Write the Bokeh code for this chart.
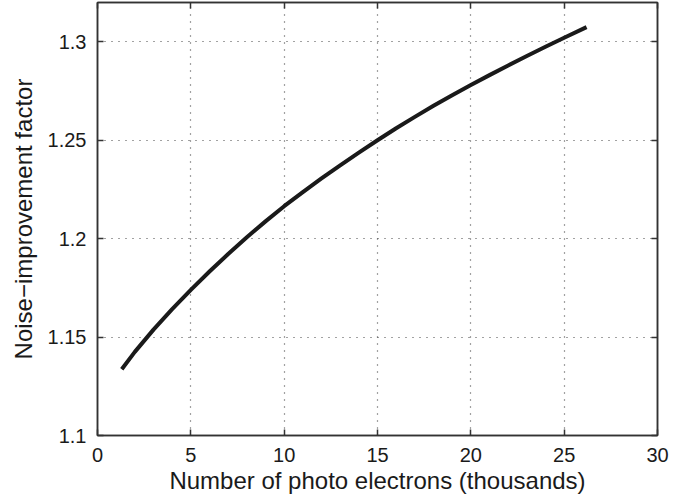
from bokeh.plotting import figure
from bokeh.models import Range1d, FixedTicker, LinearAxis
from bokeh.embed import file_html
from bokeh.resources import INLINE

# Data
electrons_thousands = [1.3, 2, 3, 4, 5, 6, 7, 8, 9, 10, 11, 12, 13, 14, 15,
                       16, 17, 18, 19, 20, 21, 22, 23, 24, 25, 26.2]
noise_improvement = [1.1337, 1.1425, 1.1538, 1.1642, 1.1740, 1.1833, 1.1922, 1.2007,
                     1.2088, 1.2165, 1.2237, 1.2306, 1.2372, 1.2437, 1.2500, 1.2561,
                     1.2619, 1.2675, 1.2729, 1.2781, 1.2831, 1.2880, 1.2928, 1.2975,
                     1.3021, 1.3075]
x_ticks = [0, 5, 10, 15, 20, 25, 30]
y_ticks = [1.1, 1.15, 1.2, 1.25, 1.3]
y_tick_labels = ["1.1", "1.15", "1.2", "1.25", "1.3"]

FONT = "Liberation Sans"

p = figure(width=693, height=497, output_backend="svg", toolbar_location=None,
           x_range=Range1d(0, 30), y_range=Range1d(1.1, 1.32),
           min_border_left=97, min_border_right=36, min_border_top=2, min_border_bottom=62)
p.background_fill_color = "white"
p.border_fill_color = "white"
p.outline_line_color = "#333333"
p.outline_line_width = 1.5

p.line(electrons_thousands, noise_improvement, line_width=4, line_color="#1a1a1a",
       line_join="round", line_cap="butt")

for ax in (p.xaxis[0], p.yaxis[0]):
    ax.major_tick_in = 6
    ax.major_tick_out = 0
    ax.minor_tick_in = 0
    ax.minor_tick_out = 0
    ax.axis_line_color = "#333333"
    ax.axis_line_width = 1.5
    ax.major_tick_line_color = "#333333"
    ax.major_tick_line_width = 1.5
    ax.major_label_text_font = FONT
    ax.major_label_text_font_size = "20px"
    ax.major_label_text_color = "#1a1a1a"
    ax.axis_label_text_font = FONT
    ax.axis_label_text_font_size = "24px"
    ax.axis_label_text_font_style = "normal"
    ax.axis_label_text_color = "#1a1a1a"

p.xaxis[0].ticker = FixedTicker(ticks=x_ticks)
p.yaxis[0].ticker = FixedTicker(ticks=y_ticks)
p.yaxis[0].major_label_overrides = {t: s for t, s in zip(y_ticks, y_tick_labels)}
p.xaxis[0].axis_label = "Number of photo electrons (thousands)"
p.yaxis[0].axis_label = "Noise\u2212improvement factor"
p.xaxis[0].major_label_standoff = 12
p.yaxis[0].major_label_standoff = 11
p.xaxis[0].axis_label_standoff = 2
p.yaxis[0].axis_label_standoff = 8

# Mirror axes on top and right (ticks only)
top = LinearAxis(ticker=FixedTicker(ticks=x_ticks), major_label_text_font_size="0px",
                 major_tick_in=6, major_tick_out=0, minor_tick_in=0, minor_tick_out=0,
                 axis_line_color="#333333", major_tick_line_color="#333333",
                 axis_line_width=1.5, major_tick_line_width=1.5, major_label_standoff=0)
right = LinearAxis(ticker=FixedTicker(ticks=y_ticks), major_label_text_font_size="0px",
                   major_tick_in=6, major_tick_out=0, minor_tick_in=0, minor_tick_out=0,
                   axis_line_color="#333333", major_tick_line_color="#333333",
                   axis_line_width=1.5, major_tick_line_width=1.5, major_label_standoff=0)
top.major_label_overrides = {t: "" for t in x_ticks}
right.major_label_overrides = {t: "" for t in y_ticks}
p.add_layout(top, "above")
p.add_layout(right, "right")

for g in (p.xgrid[0], p.ygrid[0]):
    g.grid_line_color = "#444444"
    g.grid_line_dash = "1 6"
    g.grid_line_width = 1.2
p.xgrid[0].ticker = FixedTicker(ticks=x_ticks)
p.ygrid[0].ticker = FixedTicker(ticks=y_ticks)

open("out.html", "w").write(file_html(p, INLINE))
